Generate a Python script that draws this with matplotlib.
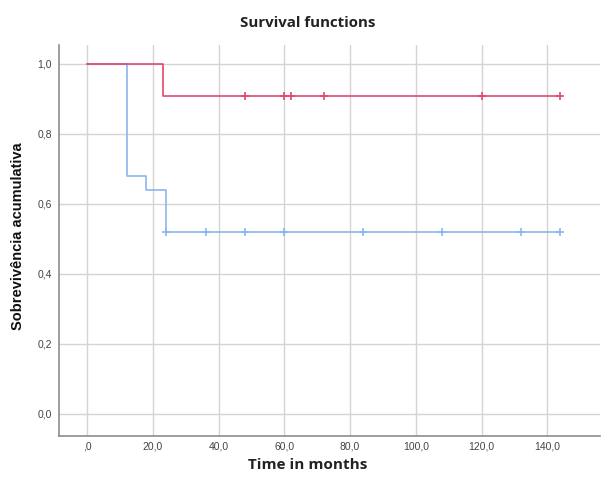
import matplotlib.pyplot as plt
from matplotlib.ticker import FuncFormatter

# Kaplan-Meier steps
red_times = [0, 23, 144]
red_surv = [1.0, 0.909, 0.909]
red_censor = [48, 60, 62, 72, 120, 144]

blue_times = [0, 12, 18, 24, 144]
blue_surv = [1.0, 0.68, 0.64, 0.52, 0.52]
blue_censor = [24, 36, 48, 60, 84, 108, 132, 144]

x_ticks = [0, 20, 40, 60, 80, 100, 120, 140]
y_ticks = [0.0, 0.2, 0.4, 0.6, 0.8, 1.0]

red = '#e4476e'
blue = '#8ab6ec'


def surv_at(times, surv, t):
    # value of the step function at time t
    s = surv[0]
    for ti, si in zip(times, surv):
        if ti <= t:
            s = si
    return s


fig = plt.figure(figsize=(6.03, 4.78), dpi=100)
ax = fig.add_axes([0.0978, 0.088, 0.897, 0.818])

ax.step(blue_times, blue_surv, where='post', color=blue, lw=1.2, zorder=3)
ax.step(red_times, red_surv, where='post', color=red, lw=1.2, zorder=3)
ax.plot(blue_censor, [surv_at(blue_times, blue_surv, t) for t in blue_censor],
        ls='none', marker='+', ms=6, mew=1.2, color=blue, zorder=4)
ax.plot(red_censor, [surv_at(red_times, red_surv, t) for t in red_censor],
        ls='none', marker='+', ms=6, mew=1.2, color=red, zorder=4)

ax.set_xlim(-8.6, 156)
ax.set_ylim(-0.063, 1.054)
ax.set_xticks(x_ticks)
ax.set_yticks(y_ticks)
ax.xaxis.set_major_formatter(FuncFormatter(lambda v, p: ',0' if v == 0 else ('%.1f' % v).replace('.', ',')))
ax.yaxis.set_major_formatter(FuncFormatter(lambda v, p: ('%.1f' % v).replace('.', ',')))
ax.grid(True, color='#d4d4d4', lw=1.0)
ax.set_axisbelow(True)
ax.tick_params(length=0, labelsize=7.5, colors='#444444')
ax.tick_params(axis='x', pad=4)
ax.tick_params(axis='y', pad=5)
for lab in ax.get_xticklabels() + ax.get_yticklabels():
    lab.set_family('Liberation Sans')

for side in ['top', 'right']:
    ax.spines[side].set_visible(False)
for side in ['left', 'bottom']:
    ax.spines[side].set_color('#8c8c8c')
    ax.spines[side].set_linewidth(1.2)

fig.text(0.030, 0.505, 'Sobrevivência acumulativa', rotation=90, ha='center', va='center',
         family='Liberation Sans', fontweight='bold', fontsize=10.5, color='#111111')
fig.text(0.511, 0.952, 'Survival functions', ha='center', va='center',
         family='Open Sans', fontweight='bold', fontsize=10.8, color='#222222')
fig.text(0.511, 0.027, 'Time in months', ha='center', va='center',
         family='Open Sans', fontweight='bold', fontsize=11, color='#222222')

fig.savefig('out.png', dpi=100)
